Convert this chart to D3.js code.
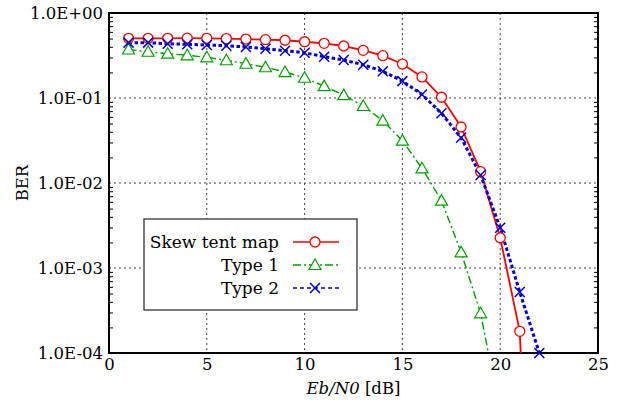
<!DOCTYPE html>
<html>
<head>
<meta charset="utf-8">
<script src="https://cdn.jsdelivr.net/npm/d3@7"></script>
<style>
  body { margin: 0; background: #fff; }
  svg text { font-family: "DejaVu Serif", "Liberation Serif", "Noto Serif", serif; }
</style>
</head>
<body>
<div id="app"></div>
<script>
const snr = [1,2,3,4,5,6,7,8,9,10,11,12,13,14,15,16,17,18,19,20,21,22];
// skew tent map, last point is below the axis (line runs off the bottom)
const berTent = [0.504,0.504,0.504,0.506,0.504,0.500,0.494,0.486,0.478,0.459,0.440,0.409,0.364,0.315,0.251,0.177,0.102,0.0456,0.0136,0.00227,0.00018,1e-9];
const berType1 = [0.372,0.350,0.332,0.318,0.301,0.278,0.253,0.230,0.202,0.173,0.138,0.108,0.0805,0.0541,0.0315,0.0149,0.0062,0.00153,0.000293,0.000019];
const berType2 = [0.448,0.448,0.435,0.428,0.420,0.412,0.398,0.380,0.360,0.341,0.306,0.280,0.246,0.206,0.158,0.110,0.066,0.0341,0.0124,0.00298,0.000522,0.0001];
const xTicks = [0,5,10,15,20,25];
const yTicks = [1,0.1,0.01,0.001,0.0001];
const yTickLabels = ['1.0E+00','1.0E-01','1.0E-02','1.0E-03','1.0E-04'];
const seriesNames = ['Skew tent map','Type 1','Type 2'];

const width = 624, height = 404;
const margin = { top: 13, right: 26, bottom: 51, left: 109 };
const fontSize = 16.5;

const x = d3.scaleLinear().domain([0, 25]).range([margin.left, width - margin.right]);
const y = d3.scaleLog().domain([1e-4, 1]).range([height - margin.bottom, margin.top]);

const svg = d3.select('#app').append('svg')
    .attr('width', width).attr('height', height);

svg.append('clipPath').attr('id', 'clip')
  .append('rect')
    .attr('x', margin.left).attr('y', margin.top)
    .attr('width', x(25) - x(0)).attr('height', y(1e-4) - y(1));

// grid
const grid = svg.append('g');
grid.selectAll('.gx').data(xTicks.slice(1, -1)).join('line')
    .attr('x1', d => x(d)).attr('x2', d => x(d))
    .attr('y1', y(1)).attr('y2', y(1e-4))
    .attr('stroke', '#444').attr('stroke-width', 1).attr('stroke-dasharray', '2,3');
grid.selectAll('.gy').data(yTicks.slice(1, -1)).join('line')
    .attr('x1', x(0)).attr('x2', x(25))
    .attr('y1', d => y(d)).attr('y2', d => y(d))
    .attr('stroke', '#444').attr('stroke-width', 1).attr('stroke-dasharray', '2,3');

// axes
const minor = y.ticks().filter(d => yTicks.indexOf(d) < 0);
svg.append('g')
    .attr('transform', `translate(${margin.left},0)`)
    .call(d3.axisRight(y).tickValues(minor).tickSize(4).tickFormat(''))
    .call(g => g.select('.domain').remove());
svg.append('g')
    .attr('transform', `translate(${width - margin.right},0)`)
    .call(d3.axisLeft(y).tickValues(minor).tickSize(4).tickFormat(''))
    .call(g => g.select('.domain').remove());

svg.append('g')
    .attr('transform', `translate(${margin.left},0)`)
    .call(d3.axisLeft(y).tickValues(yTicks).tickSize(0).tickPadding(6)
        .tickFormat((d, i) => yTickLabels[i]))
    .call(g => g.select('.domain').remove())
    .call(g => g.selectAll('text').attr('font-size', fontSize).attr('fill', '#000'));

svg.append('g')
    .attr('transform', `translate(0,${height - margin.bottom})`)
    .call(d3.axisBottom(x).tickValues(xTicks).tickSize(0).tickPadding(5))
    .call(g => g.select('.domain').remove())
    .call(g => g.selectAll('text').attr('font-size', fontSize).attr('fill', '#000'));

// frame
svg.append('rect')
    .attr('x', x(0)).attr('y', y(1))
    .attr('width', x(25) - x(0)).attr('height', y(1e-4) - y(1))
    .attr('fill', 'none').attr('stroke', '#000').attr('stroke-width', 2);

// series
const series = [
  { name: seriesNames[0], data: berTent, color: '#ff0000', dash: null, width: 1.8, marker: 'circle', nMark: 21 },
  { name: seriesNames[1], data: berType1, color: '#00a000', dash: '8,3,2,3', width: 1.4, marker: 'triangle', nMark: 19 },
  { name: seriesNames[2], data: berType2, color: '#0000cc', dash: '3.5,2.5', width: 3, marker: 'cross', nMark: 22 },
];

const line = d3.line().x(d => x(d[0])).y(d => y(d[1]));
const plot = svg.append('g').attr('clip-path', 'url(#clip)');

const drawMarker = (g, type, color, cx, cy) => {
  if (type === 'circle') {
    g.append('circle').attr('cx', cx).attr('cy', cy).attr('r', 5)
      .attr('fill', '#fff').attr('stroke', color).attr('stroke-width', 1.3);
  } else if (type === 'triangle') {
    const s = 6;
    g.append('path')
      .attr('d', `M${cx},${cy - s}L${cx + s},${cy + s * 0.75}L${cx - s},${cy + s * 0.75}Z`)
      .attr('fill', '#fff').attr('stroke', color).attr('stroke-width', 1.2);
  } else {
    const s = 5;
    g.append('path')
      .attr('d', `M${cx - s},${cy - s}L${cx + s},${cy + s}M${cx - s},${cy + s}L${cx + s},${cy - s}`)
      .attr('stroke', color).attr('stroke-width', 1.5).attr('fill', 'none');
  }
};

series.forEach(s => {
  const pts = s.data.map((v, i) => [snr[i], v]);
  plot.append('path').datum(pts)
    .attr('d', line)
    .attr('fill', 'none').attr('stroke', s.color)
    .attr('stroke-width', s.width)
    .attr('stroke-dasharray', s.dash);
});
series.forEach(s => {
  const g = svg.append('g');
  s.data.slice(0, s.nMark).forEach((v, i) => {
    if (v >= 1e-4) drawMarker(g, s.marker, s.color, x(snr[i]), y(v));
  });
});

// legend
const lg = svg.append('g');
lg.append('rect')
    .attr('x', 144).attr('y', 219).attr('width', 213).attr('height', 91)
    .attr('fill', '#fff').attr('stroke', '#333').attr('stroke-width', 1.3);
series.forEach((s, i) => {
  const yy = 242 + i * 23;
  lg.append('text').attr('x', 279).attr('y', yy).attr('dy', '0.35em')
    .attr('text-anchor', 'end').attr('font-size', 17).text(s.name);
  lg.append('line').attr('x1', 293).attr('x2', 339).attr('y1', yy).attr('y2', yy)
    .attr('stroke', s.color).attr('stroke-width', 1.5)
    .attr('stroke-dasharray', s.marker === 'cross' ? '4,3' : s.dash);
  drawMarker(lg, s.marker, s.color, 315, yy);
});

// axis titles
svg.append('text')
    .attr('transform', `translate(28,${(y(1) + y(1e-4)) / 2}) rotate(-90)`)
    .attr('text-anchor', 'middle').attr('font-size', fontSize).text('BER');
const xl = svg.append('text')
    .attr('x', (x(0) + x(25)) / 2).attr('y', 394)
    .attr('text-anchor', 'middle').attr('font-size', fontSize);
xl.append('tspan').attr('font-style', 'italic').text('Eb/N0');
xl.append('tspan').text(' [dB]');
</script>
</body>
</html>
